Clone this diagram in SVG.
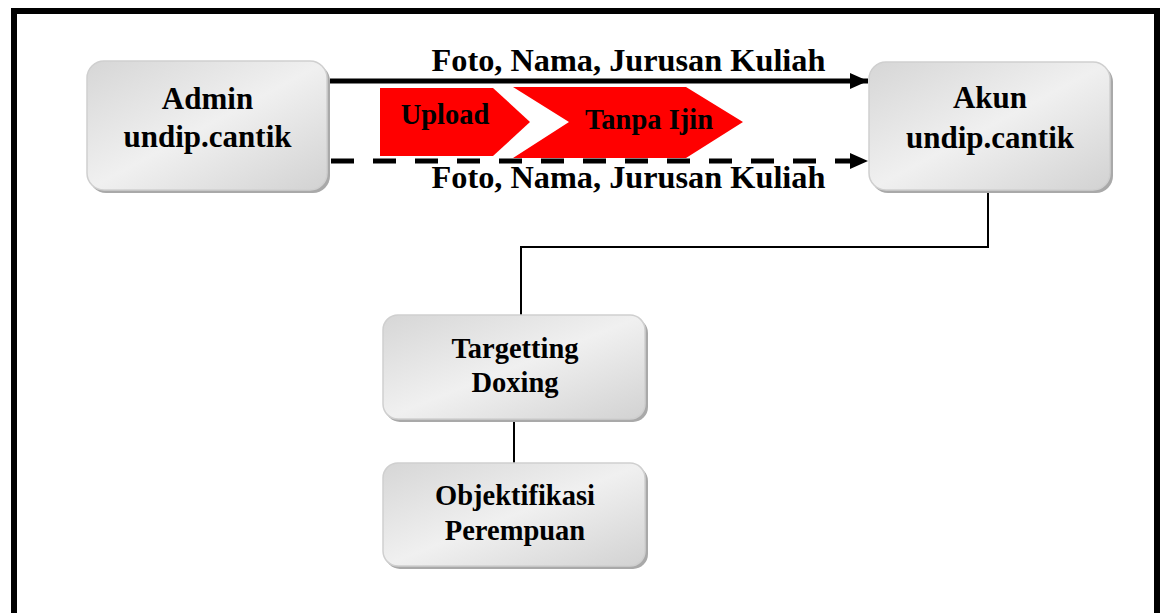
<svg xmlns="http://www.w3.org/2000/svg" width="1160" height="613" viewBox="0 0 1160 613">
<style>
.box{fill:url(#g);stroke:#cfcfcf;stroke-width:1.5}
.sh{fill:#a9a9a9}
.t{font-family:"Liberation Serif",serif;font-weight:bold;fill:#000;text-anchor:middle}
.conn{fill:none;stroke:#000}
</style>
<defs>
<linearGradient id="g" x1="0" y1="0" x2="1" y2="1">
<stop offset="0" stop-color="#d6d6d6"/>
<stop offset="0.5" stop-color="#f0f0f0"/>
<stop offset="1" stop-color="#d2d2d2"/>
</linearGradient>
<marker id="ah" viewBox="0 0 18 16" refX="18" refY="8" markerWidth="18" markerHeight="16" markerUnits="userSpaceOnUse" orient="auto">
<path d="M0,0 L18,8 L0,16 z" fill="#000"/>
</marker>
</defs>
<rect x="0" y="0" width="1160" height="613" fill="#fff"/>
<rect x="14" y="11" width="1143" height="620" fill="none" stroke="#000" stroke-width="6"/>

<g id="connectors">
<line class="conn" x1="330" y1="81" x2="868" y2="81" stroke-width="5" marker-end="url(#ah)"/>
<line class="conn" x1="331" y1="161" x2="868" y2="161" stroke-width="5" stroke-dasharray="23,19" marker-end="url(#ah)"/>
<polyline class="conn" points="988,191 988,247 521,247 521,316" stroke-width="2"/>
<line class="conn" x1="514" y1="420" x2="514" y2="464" stroke-width="2"/>
<text class="t" x="628.5" y="71" font-size="32.3">Foto, Nama, Jurusan Kuliah</text>
<text class="t" x="628.5" y="188" font-size="32.3">Foto, Nama, Jurusan Kuliah</text>
</g>

<g id="upload">
<polygon points="380,88 493,88 530,122 493,156 380,156" fill="#ff0000"/>
<text class="t" x="445" y="124" font-size="28.5">Upload</text>
</g>
<g id="tanpa-ijin">
<polygon points="513,87 686,87 743,122 686,158 513,158 569,122" fill="#ff0000"/>
<text class="t" x="649" y="129" font-size="28.5">Tanpa Ijin</text>
</g>

<g id="admin">
<rect class="sh" x="89" y="64" width="241" height="129" rx="17"/>
<rect class="box" x="87" y="61" width="240" height="129" rx="17"/>
<text class="t" x="207.5" y="109" font-size="31">Admin</text>
<text class="t" x="207.5" y="147" font-size="31">undip.cantik</text>
</g>

<g id="akun">
<rect class="sh" x="871" y="65" width="242" height="128" rx="17"/>
<rect class="box" x="869" y="62" width="241" height="128" rx="17"/>
<text class="t" x="990" y="108" font-size="31">Akun</text>
<text class="t" x="990" y="148" font-size="31">undip.cantik</text>
</g>

<g id="targetting">
<rect class="sh" x="385" y="318" width="263" height="104" rx="15"/>
<rect class="box" x="383" y="315" width="262" height="104" rx="15"/>
<text class="t" x="515" y="358" font-size="28.5">Targetting</text>
<text class="t" x="515" y="392" font-size="28.5">Doxing</text>
</g>

<g id="objektifikasi">
<rect class="sh" x="385" y="466" width="263" height="103" rx="15"/>
<rect class="box" x="383" y="463" width="262" height="103" rx="15"/>
<text class="t" x="515" y="505" font-size="28.5">Objektifikasi</text>
<text class="t" x="515" y="540" font-size="28.5">Perempuan</text>
</g>
</svg>
